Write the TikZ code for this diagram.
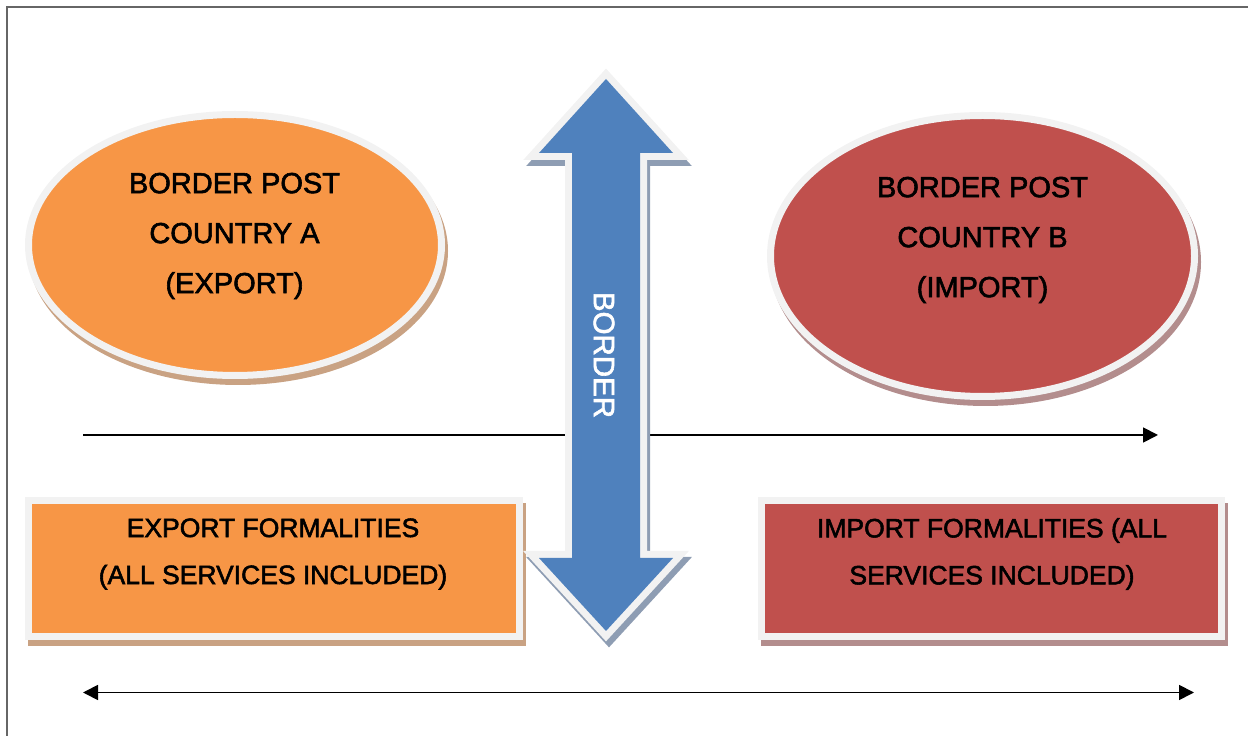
\documentclass[tikz,border=0pt]{standalone}
\usepackage{fontspec}
\setmainfont{Liberation Sans}[FakeBold=2]
\usetikzlibrary{shapes.geometric}
\usetikzlibrary{arrows.meta}
\pgfdeclarelayer{edgelayer}
\pgfdeclarelayer{nodelayer}
\pgfsetlayers{edgelayer,nodelayer,main}
\definecolor{exportorange}{HTML}{F79646}
\definecolor{importred}{HTML}{C0504D}
\definecolor{borderblue}{HTML}{4F81BD}
\definecolor{rim}{HTML}{F2F2F2}
\definecolor{exportshade}{HTML}{C9A283}
\definecolor{importshade}{HTML}{B38D8D}
\definecolor{bordershade}{HTML}{8E9DB3}
\definecolor{framegray}{HTML}{666666}
\tikzset{cast_shadow/.style={preaction={draw=#1,fill=#1,transform canvas={shift={(3pt,-6pt)}}}}}
\tikzstyle{post_oval}=[ellipse,draw=rim,line width=7pt,inner sep=0pt]
\tikzstyle{formality_box}=[rectangle,draw=rim,line width=7pt,inner sep=0pt]
\tikzstyle{post_label}=[align=center,font=\fontsize{29}{50}\selectfont]
\tikzstyle{formality_label}=[align=center,font=\fontsize{26.5}{47}\selectfont]
\tikzstyle{border_label}=[text=white,rotate=-90,font=\fontsize{29.5}{35}\selectfont]
\tikzstyle{border_arrow}=[preaction={draw=bordershade,fill=bordershade,line width=14pt,transform canvas={shift={(3pt,-6pt)}}},
	preaction={draw=rim,line width=14pt},fill=borderblue]
\tikzstyle{flow}=[-{Triangle[length=15pt,width=15pt]},line width=1.8pt,draw=black]
\tikzstyle{two_way_flow}=[{Triangle[length=15pt,width=15pt]}-{Triangle[length=15pt,width=15pt]},line width=1.8pt,draw=black]
\tikzstyle{frame_line}=[line width=1.6pt,draw=framegray]

\begin{document}
\begin{tikzpicture}[x=1pt,y=1pt]
	\useasboundingbox (0,0) rectangle (1248,736);
	\begin{pgfonlayer}{nodelayer}
		\node [style={post_oval}, fill=exportorange, cast_shadow=exportshade, minimum width=413pt, minimum height=261pt] (0) at (235, 491) {};
		\node [style={post_label}] (1) at (234.5, 500) {BORDER POST\\COUNTRY A\\(EXPORT)};
		\node [style={post_oval}, fill=importred, cast_shadow=importshade, minimum width=424pt, minimum height=281pt] (2) at (982.5, 480) {};
		\node [style={post_label}] (3) at (982.5, 496) {BORDER POST\\COUNTRY B\\(IMPORT)};
		\node [style={formality_box}, fill=exportorange, cast_shadow=exportshade, minimum width=491pt, minimum height=136pt] (4) at (274, 167.5) {};
		\node [style={formality_label}] (5) at (273, 182) {EXPORT FORMALITIES\\(ALL SERVICES INCLUDED)};
		\node [style={formality_box}, fill=importred, cast_shadow=importshade, minimum width=460pt, minimum height=136pt] (6) at (991.5, 167.5) {};
		\node [style={formality_label}] (7) at (992, 182) {IMPORT FORMALITIES (ALL\\SERVICES INCLUDED)};
		\path [style={border_arrow}] (606, 657) -- (673, 583) -- (640, 583) -- (640, 178) -- (673, 178) -- (606, 105)
			-- (539, 178) -- (572, 178) -- (572, 583) -- (539, 583) -- cycle;
		\node [style={border_label}] (8) at (604, 381) {BORDER};
		\coordinate (9) at (83, 301);
		\coordinate (10) at (1158, 301);
		\coordinate (11) at (83, 43.5);
		\coordinate (12) at (1194, 43.5);
	\end{pgfonlayer}
	\begin{pgfonlayer}{edgelayer}
		\draw [style=frame_line] (7, 0) -- (7, 729) -- (1248, 729);
		\draw [style=flow] (9) to (10);
		\draw [style={two_way_flow}] (11) to (12);
	\end{pgfonlayer}
\end{tikzpicture}
\end{document}
